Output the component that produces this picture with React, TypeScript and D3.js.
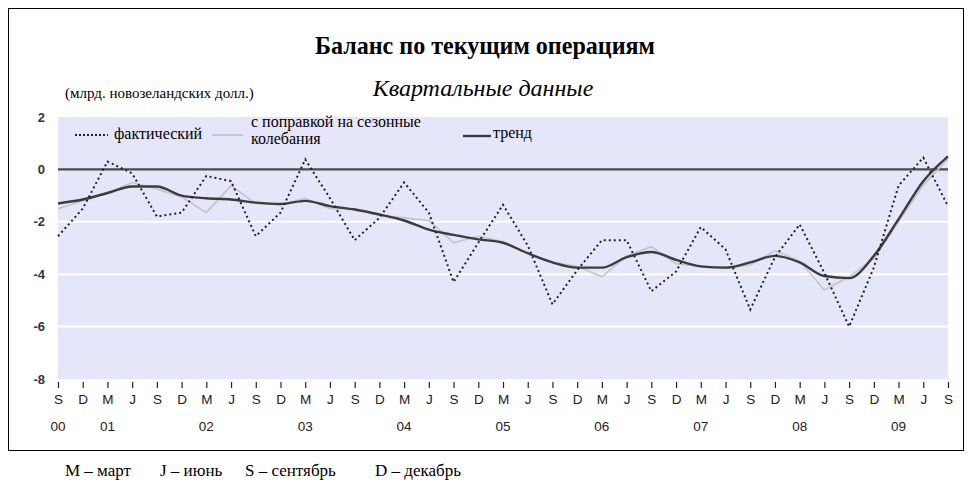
import React, { useEffect, useRef } from "react";
import * as d3 from "d3";

// quarters from Sep 2000 to Sep 2009
const periods = [
  "S00", "D00",
  "M01", "J01", "S01", "D01",
  "M02", "J02", "S02", "D02",
  "M03", "J03", "S03", "D03",
  "M04", "J04", "S04", "D04",
  "M05", "J05", "S05", "D05",
  "M06", "J06", "S06", "D06",
  "M07", "J07", "S07", "D07",
  "M08", "J08", "S08", "D08",
  "M09", "J09", "S09",
];

const yearTicks = [
  { at: "S00", label: "00" },
  { at: "M01", label: "01" },
  { at: "M02", label: "02" },
  { at: "M03", label: "03" },
  { at: "M04", label: "04" },
  { at: "M05", label: "05" },
  { at: "M06", label: "06" },
  { at: "M07", label: "07" },
  { at: "M08", label: "08" },
  { at: "M09", label: "09" },
];

const yTicks = [2, 0, -2, -4, -6, -8];

const actual = [
  -2.55, -1.5,
  0.3, -0.15, -1.8, -1.65,
  -0.25, -0.45, -2.55, -1.65,
  0.38, -1.1, -2.7, -1.85,
  -0.5, -1.65, -4.3, -2.8,
  -1.35, -2.9, -5.15, -3.85,
  -2.7, -2.7, -4.65, -3.9,
  -2.2, -3.05, -5.35, -3.35,
  -2.1, -3.95, -6.0, -3.75,
  -0.62, 0.45, -1.4,
];

const seasAdj = [
  -1.5, -1.2,
  -0.9, -0.5, -0.75, -1.05,
  -1.65, -0.62, -1.3, -1.35,
  -1.1, -1.5, -1.5, -1.75,
  -1.85, -1.95, -2.8, -2.55,
  -2.75, -3.2, -3.55, -3.7,
  -4.1, -3.3, -2.95, -3.6,
  -3.7, -3.75, -3.65, -3.1,
  -3.5, -4.6, -4.1, -3.4,
  -2.0, -0.6, 0.4,
];

const trend = [
  -1.3, -1.15,
  -0.9, -0.65, -0.65, -1.0,
  -1.1, -1.15, -1.27, -1.32,
  -1.2, -1.4, -1.53, -1.72,
  -1.95, -2.3, -2.5, -2.67,
  -2.8, -3.2, -3.55, -3.75,
  -3.75, -3.35, -3.15, -3.45,
  -3.7, -3.75, -3.55, -3.3,
  -3.55, -4.07, -4.15, -3.3,
  -1.9, -0.45, 0.5,
];

const monthNotes = [
  { x: 65, text: "M – март" },
  { x: 160, text: "J – июнь" },
  { x: 245, text: "S – сентябрь" },
  { x: 375, text: "D – декабрь" },
];

const serif = "'Liberation Serif', 'Times New Roman', serif";
const sans = "'Liberation Sans', Arial, sans-serif";

const App: React.FC = () => {
  const svgRef = useRef<SVGSVGElement | null>(null);

  useEffect(() => {
    if (!svgRef.current) return;
    const svg = d3.select(svgRef.current);
    svg.selectAll("*").remove();

    const width = 972;
    const height = 484;
    const plot = { left: 58, right: 948, top: 117, bottom: 379 };

    svg.attr("width", width).attr("height", height);

    // frame
    svg
      .append("rect")
      .attr("x", 8.5)
      .attr("y", 8.5)
      .attr("width", 955)
      .attr("height", 442)
      .attr("fill", "#fff")
      .attr("stroke", "#000")
      .attr("stroke-width", 1);

    const x = d3.scalePoint<string>().domain(periods).range([plot.left, plot.right]);
    const y = d3.scaleLinear().domain([-8, 2]).range([plot.bottom, plot.top]);

    svg
      .append("rect")
      .attr("x", plot.left)
      .attr("y", plot.top)
      .attr("width", plot.right - plot.left)
      .attr("height", plot.bottom - plot.top)
      .attr("fill", "#e6e6fa");

    // white grid lines
    svg
      .append("g")
      .selectAll("line")
      .data([-2, -4, -6])
      .join("line")
      .attr("x1", plot.left)
      .attr("x2", plot.right)
      .attr("y1", (d) => y(d))
      .attr("y2", (d) => y(d))
      .attr("stroke", "#fff")
      .attr("stroke-width", 2);

    // zero line
    svg
      .append("line")
      .attr("x1", plot.left)
      .attr("x2", plot.right)
      .attr("y1", y(0))
      .attr("y2", y(0))
      .attr("stroke", "#4a4a4a")
      .attr("stroke-width", 2.2);

    // titles
    svg
      .append("text")
      .attr("x", 485)
      .attr("y", 54)
      .attr("text-anchor", "middle")
      .attr("font-family", serif)
      .attr("font-weight", "bold")
      .attr("font-size", 25)
      .attr("textLength", 340)
      .attr("lengthAdjust", "spacingAndGlyphs")
      .text("Баланс по текущим операциям");

    svg
      .append("text")
      .attr("x", 483)
      .attr("y", 96)
      .attr("text-anchor", "middle")
      .attr("font-family", serif)
      .attr("font-style", "italic")
      .attr("font-size", 24)
      .text("Квартальные данные");

    svg
      .append("text")
      .attr("x", 65)
      .attr("y", 98)
      .attr("font-family", serif)
      .attr("font-size", 15)
      .text("(млрд. новозеландских долл.)");

    // y axis
    const yAxis = svg
      .append("g")
      .attr("transform", `translate(${plot.left - 13},0)`)
      .call(d3.axisLeft(y).tickValues(yTicks).tickSize(0).tickPadding(0).tickFormat(d3.format("d")));
    yAxis.select(".domain").remove();
    yAxis
      .selectAll("text")
      .attr("font-family", sans)
      .attr("font-size", 13)
      .attr("font-weight", "bold")
      .attr("fill", "#333")
      .text((d) => String(d));

    // x axis
    const xAxis = svg
      .append("g")
      .attr("transform", `translate(0,${plot.bottom + 3})`)
      .call(d3.axisBottom(x).tickSize(6).tickPadding(6).tickFormat((d) => d[0]));
    xAxis.select(".domain").remove();
    xAxis.selectAll("line").attr("stroke", "#222").attr("stroke-width", 1.2);
    xAxis
      .selectAll("text")
      .attr("font-family", sans)
      .attr("font-size", 13.5)
      .attr("fill", "#222");

    svg
      .append("g")
      .selectAll("text")
      .data(yearTicks)
      .join("text")
      .attr("x", (d) => x(d.at)!)
      .attr("y", 431)
      .attr("text-anchor", "middle")
      .attr("font-family", sans)
      .attr("font-size", 13.5)
      .attr("fill", "#222")
      .text((d) => d.label);

    const line = d3
      .line<number>()
      .x((_, i) => x(periods[i])!)
      .y((d) => y(d));

    svg
      .append("path")
      .datum(seasAdj)
      .attr("d", line)
      .attr("fill", "none")
      .attr("stroke", "#c4c4c4")
      .attr("stroke-width", 1.6);

    svg
      .append("path")
      .datum(trend)
      .attr("d", line.curve(d3.curveMonotoneX))
      .attr("fill", "none")
      .attr("stroke", "#3c3c3c")
      .attr("stroke-width", 2.4);

    svg
      .append("path")
      .datum(actual)
      .attr("d", line.curve(d3.curveLinear))
      .attr("fill", "none")
      .attr("stroke", "#222")
      .attr("stroke-width", 2)
      .attr("stroke-dasharray", "2,3");

    // legend
    const lg = svg.append("g").attr("font-family", serif).attr("font-size", 16);
    lg.append("line")
      .attr("x1", 75).attr("x2", 108).attr("y1", 135).attr("y2", 135)
      .attr("stroke", "#222").attr("stroke-width", 2).attr("stroke-dasharray", "2,2");
    lg.append("text").attr("x", 114).attr("y", 139).text("фактический");

    lg.append("line")
      .attr("x1", 212).attr("x2", 243).attr("y1", 135).attr("y2", 135)
      .attr("stroke", "#c4c4c4").attr("stroke-width", 1.6);
    lg.append("text").attr("x", 251).attr("y", 127).text("с поправкой на сезонные");
    lg.append("text").attr("x", 251).attr("y", 144).text("колебания");

    lg.append("line")
      .attr("x1", 463).attr("x2", 491).attr("y1", 136).attr("y2", 136)
      .attr("stroke", "#3c3c3c").attr("stroke-width", 2.4);
    lg.append("text").attr("x", 493).attr("y", 138).text("тренд");

    svg
      .append("g")
      .selectAll("text")
      .data(monthNotes)
      .join("text")
      .attr("x", (d) => d.x)
      .attr("y", 476)
      .attr("font-family", serif)
      .attr("font-size", 17)
      .text((d) => d.text);
  }, []);

  return (
    <div style={{ position: "absolute", left: 0, top: 0 }}>
      <svg ref={svgRef} style={{ display: "block" }}></svg>
    </div>
  );
};

export default App;
